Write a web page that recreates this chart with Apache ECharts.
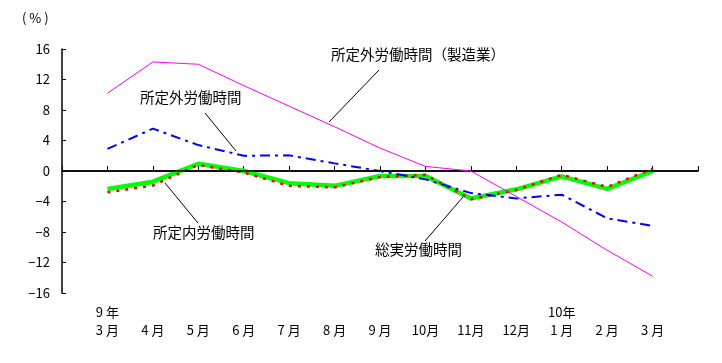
<!DOCTYPE html>
<html><head><meta charset="utf-8">
<script src="https://cdn.jsdelivr.net/npm/echarts@6/dist/echarts.min.js"></script>
<style>html,body{margin:0;padding:0;background:#fff}#c{width:722px;height:363px}</style>
</head><body><div id="c"></div>
<script>
var categories = ['', '9 年\n3 月', '\n4 月', '\n5 月', '\n6 月', '\n7 月', '\n8 月', '\n9 月', '\n10月', '\n11月', '\n12月', '10年\n1 月', '\n2 月', '\n3 月', ''];
var overtimeMfg = [10.2, 14.3, 14.0, 11.2, 8.5, 5.8, 3.0, 0.6, 0.0, -3.35, -6.7, -10.4, -13.8];
var overtime = [2.9, 5.55, 3.4, 2.0, 2.05, 1.0, 0.0, -1.1, -2.9, -3.6, -3.1, -6.2, -7.2];
var scheduled = [-2.8, -1.9, 0.8, -0.2, -1.95, -2.15, -0.8, -0.5, -3.7, -2.5, -0.5, -2.1, 0.3];
var total = [-2.35, -1.4, 0.95, 0.0, -1.6, -1.95, -0.65, -0.65, -3.6, -2.4, -0.7, -2.35, 0.0];
var yTicks = {min: -16, max: 16, interval: 4};

function pad(a){ return [null].concat(a).concat([null]); }
var FONT = '"Noto Sans CJK JP", "DejaVu Sans", sans-serif';
var chart = echarts.init(document.getElementById('c'), null, {renderer: 'canvas'});
chart.setOption({
  animation: false,
  grid: {left: 62, right: 24, top: 49, bottom: 70, containLabel: false},
  xAxis: {
    type: 'category', data: categories, boundaryGap: false,
    axisLine: {lineStyle: {color: '#000', width: 1.5}},
    axisTick: {inside: true, length: 5, interval: 0, lineStyle: {color: '#000', width: 1}},
    axisLabel: {interval: 0, margin: 10, color: '#000', fontSize: 13, lineHeight: 18, fontFamily: FONT},
    splitLine: {show: false}
  },
  yAxis: {
    type: 'value', min: yTicks.min, max: yTicks.max, interval: yTicks.interval,
    axisLine: {show: true, lineStyle: {color: '#000', width: 1.5}},
    axisTick: {show: true, inside: true, length: 4, lineStyle: {color: '#000'}},
    axisLabel: {color: '#000', fontSize: 13, margin: 12, fontFamily: FONT,
      formatter: function(v){ return String(v).replace('-', '−'); }},
    splitLine: {show: false}
  },
  graphic: [
    {type: 'text', left: 22, top: 12, style: {text: '( % )', font: '13px ' + FONT, fill: '#000'}},
    {type: 'text', left: 331, top: 47, style: {text: '所定外労働時間（製造業）', font: '14.5px ' + FONT, fill: '#000'}},
    {type: 'line', shape: {x1: 379, y1: 70, x2: 329, y2: 122}, style: {stroke: '#000', lineWidth: 1}},
    {type: 'text', left: 140, top: 90, style: {text: '所定外労働時間', font: '14.5px ' + FONT, fill: '#000'}},
    {type: 'line', shape: {x1: 205, y1: 113, x2: 236, y2: 151}, style: {stroke: '#000', lineWidth: 1}},
    {type: 'text', left: 153, top: 225, style: {text: '所定内労働時間', font: '14.5px ' + FONT, fill: '#000'}},
    {type: 'line', shape: {x1: 165, y1: 183, x2: 198, y2: 223}, style: {stroke: '#000', lineWidth: 1}},
    {type: 'text', left: 375, top: 242, style: {text: '総実労働時間', font: '14.5px ' + FONT, fill: '#000'}},
    {type: 'line', shape: {x1: 425, y1: 241, x2: 463, y2: 197}, style: {stroke: '#000', lineWidth: 1}}
  ],
  series: [
    {name: '総実労働時間', type: 'line', data: pad(total), showSymbol: false, symbol: 'none', z: 2,
     lineStyle: {color: '#00ff00', width: 4.5},
     markLine: {silent: true, symbol: 'none', label: {show: false},
       lineStyle: {color: '#000', width: 1.5, type: 'solid'}, data: [{yAxis: 0}]}},
    {name: '所定内労働時間', type: 'line', data: pad(scheduled), showSymbol: false, symbol: 'none', z: 3,
     lineStyle: {color: '#ff0000', width: 2.5, type: [3, 6]}},
    {name: '所定外労働時間', type: 'line', data: pad(overtime), showSymbol: false, symbol: 'none', z: 4,
     lineStyle: {color: '#0000ff', width: 2, type: [10, 5, 3, 5]}},
    {name: '所定外労働時間（製造業）', type: 'line', data: pad(overtimeMfg), showSymbol: false, symbol: 'none', z: 5,
     lineStyle: {color: '#ff00ff', width: 1}}
  ]
});
</script>
</body></html>
